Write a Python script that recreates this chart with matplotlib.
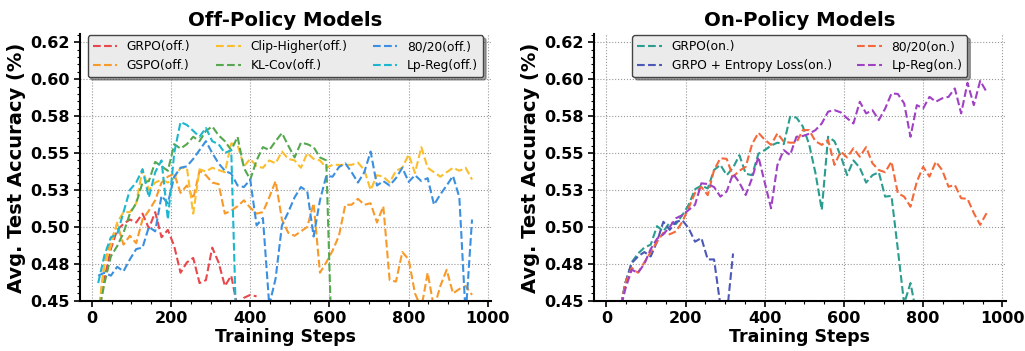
import numpy as np
import matplotlib.pyplot as plt
from matplotlib.ticker import MultipleLocator

# --- data: evaluation every 16 steps ---
steps = np.arange(16, 961, 16)

# Off-policy models
grpo_off = [0.44, 0.465, 0.485, 0.498, 0.502, 0.505, 0.503, 0.509, 0.499, 0.510,
            0.493, 0.498, 0.487, 0.469, 0.476, 0.479, 0.462, 0.464, 0.486, 0.476,
            0.460, 0.467, 0.445, 0.452, 0.454, 0.453]
gspo_off = [0.44, 0.476, 0.490, 0.502, 0.488, 0.494, 0.489, 0.505, 0.511, 0.518,
            0.530, 0.534, 0.536, 0.523, 0.528, 0.519, 0.538, 0.535, 0.530, 0.529,
            0.509, 0.511, 0.514, 0.518, 0.513, 0.509, 0.510, 0.520, 0.531, 0.505,
            0.496, 0.494, 0.497, 0.500, 0.516, 0.469, 0.476, 0.484, 0.494, 0.515,
            0.515, 0.519, 0.515, 0.516, 0.503, 0.514, 0.464, 0.463, 0.483, 0.478,
            0.455, 0.445, 0.469, 0.445, 0.460, 0.471, 0.455, 0.458, 0.460, 0.454]
clip_off = [0.44, 0.475, 0.487, 0.503, 0.510, 0.510, 0.516, 0.539, 0.525, 0.530,
            0.532, 0.530, 0.533, 0.540, 0.540, 0.509, 0.539, 0.5375, 0.540, 0.5385,
            0.537, 0.5565, 0.5555, 0.541, 0.546, 0.541, 0.540, 0.545, 0.543, 0.551,
            0.546, 0.545, 0.540, 0.550, 0.546, 0.545, 0.540, 0.542, 0.542, 0.542,
            0.542, 0.5435, 0.5385, 0.525, 0.535, 0.534, 0.530, 0.538, 0.540, 0.549,
            0.5365, 0.554, 0.540, 0.537, 0.534, 0.537, 0.540, 0.538, 0.540, 0.532]
klcov_off = [0.44, 0.462, 0.480, 0.487, 0.496, 0.509, 0.516, 0.530, 0.531, 0.544,
             0.541, 0.538, 0.556, 0.553, 0.556, 0.561, 0.558, 0.565, 0.568, 0.562,
             0.558, 0.552, 0.561, 0.540, 0.532, 0.545, 0.554, 0.552, 0.558, 0.5635,
             0.555, 0.547, 0.557, 0.556, 0.554, 0.547, 0.545, 0.40]
b8020_off = [0.467, 0.469, 0.467, 0.473, 0.470, 0.478, 0.485, 0.486, 0.500, 0.497,
             0.521, 0.516, 0.534, 0.540, 0.541, 0.546, 0.552, 0.558, 0.550, 0.543,
             0.538, 0.536, 0.528, 0.527, 0.532, 0.501, 0.506, 0.447, 0.465, 0.501,
             0.510, 0.520, 0.527, 0.524, 0.4935, 0.518, 0.5345, 0.534, 0.5405, 0.543,
             0.537, 0.530, 0.537, 0.551, 0.528, 0.531, 0.528, 0.533, 0.540, 0.5305,
             0.535, 0.531, 0.533, 0.515, 0.522, 0.528, 0.5345, 0.520, 0.44, 0.505]
lpreg_off = [0.462, 0.481, 0.493, 0.495, 0.510, 0.525, 0.530, 0.539, 0.520, 0.537,
             0.545, 0.505, 0.550, 0.571, 0.569, 0.565, 0.561, 0.567, 0.558, 0.556,
             0.550, 0.552, 0.40]

# On-policy models (start at step 32)
steps_on = np.arange(32, 961, 16)
grpo_on = [0.44, 0.462, 0.476, 0.482, 0.486, 0.488, 0.5005, 0.497, 0.503, 0.502,
           0.508, 0.515, 0.5255, 0.528, 0.526, 0.5385, 0.542, 0.535, 0.540, 0.5485,
           0.536, 0.535, 0.5495, 0.552, 0.555, 0.557, 0.556, 0.5745, 0.574, 0.568,
           0.556, 0.5365, 0.5115, 0.561, 0.558, 0.548, 0.535, 0.545, 0.540, 0.530,
           0.535, 0.537, 0.5205, 0.521, 0.485, 0.448, 0.462, 0.44]
entropy_on = [0.44, 0.462, 0.4755, 0.480, 0.483, 0.480, 0.490, 0.5035, 0.498, 0.5035,
              0.5045, 0.499, 0.490, 0.4925, 0.478, 0.478, 0.447, 0.44, 0.482]
b8020_on = [0.44, 0.462, 0.4723, 0.469, 0.476, 0.483, 0.490, 0.496, 0.495, 0.497,
            0.5035, 0.513, 0.523, 0.527, 0.5215, 0.5385, 0.5465, 0.546, 0.534, 0.538,
            0.5407, 0.556, 0.5637, 0.559, 0.5555, 0.5633, 0.5577, 0.557, 0.557, 0.5655,
            0.5655, 0.558, 0.5555, 0.5588, 0.542, 0.551, 0.547, 0.5532, 0.5475, 0.554,
            0.543, 0.5385, 0.537, 0.5442, 0.5228, 0.5205, 0.5137, 0.5306, 0.5407, 0.534,
            0.5441, 0.5385, 0.5272, 0.5284, 0.5194, 0.519, 0.5093, 0.5014, 0.5093]
lpreg_on = [0.44, 0.458, 0.471, 0.469, 0.475, 0.485, 0.492, 0.495, 0.500, 0.5059,
            0.508, 0.5115, 0.515, 0.5295, 0.529, 0.527, 0.5205, 0.524, 0.536, 0.530,
            0.5216, 0.533, 0.5475, 0.530, 0.5126, 0.5419, 0.552, 0.5486, 0.561, 0.5615,
            0.563, 0.5655, 0.570, 0.578, 0.579, 0.5775, 0.5735, 0.570, 0.5847, 0.5768,
            0.579, 0.5723, 0.580, 0.5903, 0.590, 0.5836, 0.561, 0.5824, 0.5802, 0.588,
            0.5847, 0.587, 0.588, 0.5937, 0.5768, 0.5975, 0.5824, 0.5989, 0.5914]

off_series = [("GRPO(off.)", grpo_off, "#e8474c"),
              ("GSPO(off.)", gspo_off, "#f79a2a"),
              ("Clip-Higher(off.)", clip_off, "#fbbd2e"),
              ("KL-Cov(off.)", klcov_off, "#55a84f"),
              ("80/20(off.)", b8020_off, "#3a8fe0"),
              ("Lp-Reg(off.)", lpreg_off, "#1bb6d0")]
on_series = [("GRPO(on.)", grpo_on, "#2a9d8f"),
             ("GRPO + Entropy Loss(on.)", entropy_on, "#4b58b8"),
             ("80/20(on.)", b8020_on, "#f5683a"),
             ("Lp-Reg(on.)", lpreg_on, "#a040c4")]

ytick_vals = np.arange(0.45, 0.626, 0.025)
ytick_labels = ["0.45", "0.48", "0.50", "0.53", "0.55", "0.58", "0.60", "0.62"]

fig, axes = plt.subplots(1, 2, figsize=(10.25, 3.51), dpi=100)
fig.subplots_adjust(left=0.078, right=0.981, bottom=0.143, top=0.903, wspace=0.2516)


def style_axis(ax, title):
    ax.set_xlim(-30, 1008)
    ax.set_ylim(0.45, 0.6305)
    ax.set_yticks(ytick_vals)
    ax.set_yticklabels(ytick_labels)
    ax.set_xticks([0, 200, 400, 600, 800, 1000])
    ax.xaxis.set_minor_locator(MultipleLocator(50))
    ax.yaxis.set_minor_locator(MultipleLocator(0.005))
    ax.grid(True, which="major", linestyle=":", color="#999999", linewidth=0.8)
    for s in ["top", "right"]:
        ax.spines[s].set_visible(False)
    for s in ["left", "bottom"]:
        ax.spines[s].set_linewidth(1.5)
    ax.tick_params(which="major", length=4, width=1.2, labelsize=11.5)
    ax.tick_params(which="minor", length=2, width=0.8)
    for lab in ax.get_xticklabels() + ax.get_yticklabels():
        lab.set_fontweight("bold")
    ax.set_xlabel("Training Steps", fontsize=12.5, fontweight="bold", labelpad=1)
    ax.set_ylabel("Avg. Test Accuracy (%)", fontsize=14, fontweight="bold", labelpad=3)
    ax.set_title(title, fontsize=14.2, fontweight="bold", pad=6)


ax = axes[0]
for name, vals, col in off_series:
    ax.plot(steps[:len(vals)], vals, linestyle="--", color=col, linewidth=1.5, label=name)
style_axis(ax, "Off-Policy Models")
ax.legend(loc="upper center", ncol=3, fontsize=8.8, frameon=True, fancybox=True,
          shadow=True, facecolor="#ebebeb", edgecolor="#444444", framealpha=1,
          columnspacing=2.1, borderaxespad=0.1)

ax = axes[1]
for name, vals, col in on_series:
    ax.plot(steps_on[:len(vals)], vals, linestyle="--", color=col, linewidth=1.5, label=name)
style_axis(ax, "On-Policy Models")
ax.legend(loc="upper center", ncol=2, fontsize=8.8, frameon=True, fancybox=True,
          shadow=True, facecolor="#ebebeb", edgecolor="#444444", framealpha=1,
          columnspacing=2.1, borderaxespad=0.1)

fig.savefig("out.png", dpi=100)
